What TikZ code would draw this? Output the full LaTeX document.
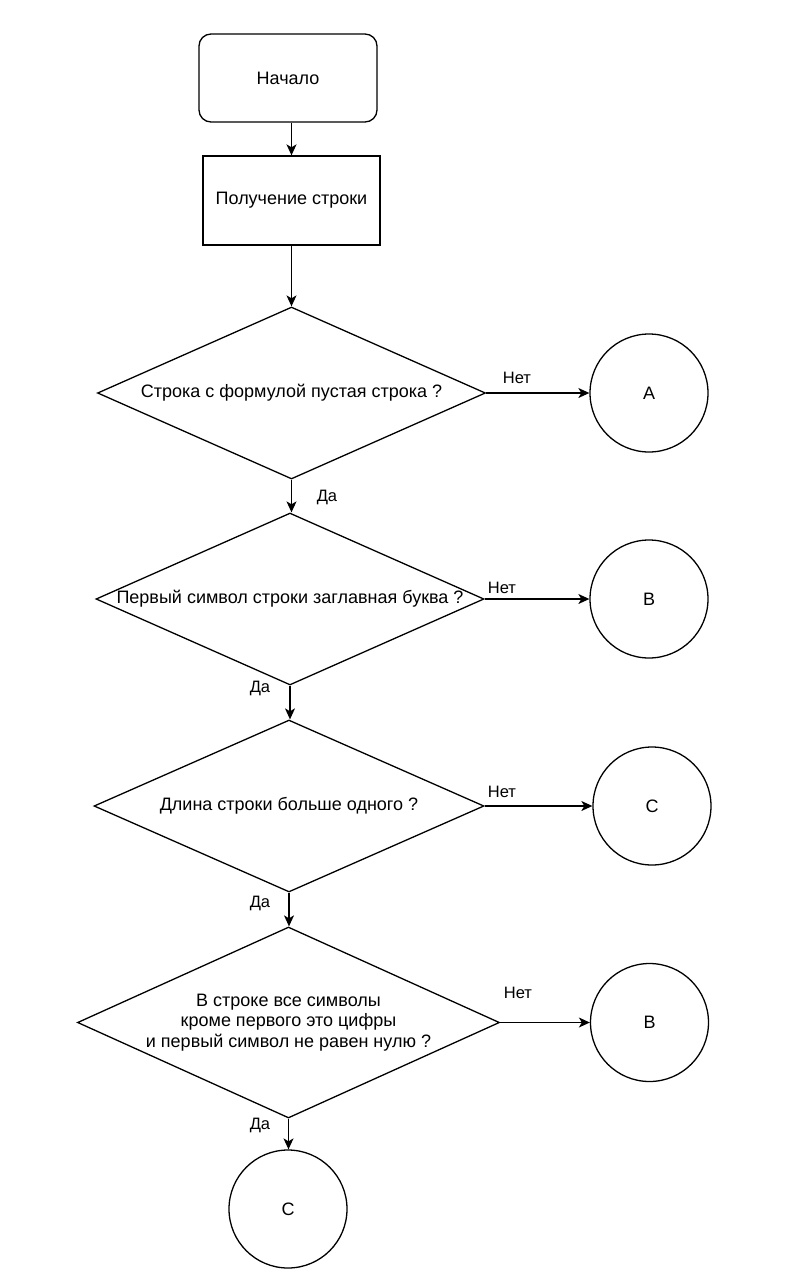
\documentclass[tikz,border=0pt]{standalone}
\usepackage{fontspec}
\setmainfont{Liberation Sans}
\usetikzlibrary{shapes.geometric,arrows.meta}

\tikzset{
  base/.style={draw=black, line width=1.3pt, font=\fontsize{18}{20.5}\selectfont, text=black},
  startbox/.style={base, rounded corners=12pt, minimum width=178pt, minimum height=88pt},
  procbox/.style={base, minimum width=177pt, minimum height=89pt},
  decision/.style={base, diamond, inner sep=0pt},
  connector/.style={base, circle, minimum size=118pt, inner sep=0pt},
  lbl/.style={font=\fontsize{16.5}{18}\selectfont, inner sep=0pt},
  arr/.style={line width=1.3pt, -{Stealth[length=11pt,width=10pt,inset=3pt]}},
}

\begin{document}
\begin{tikzpicture}[x=1pt,y=-1pt]
  \useasboundingbox[fill=white] (0,0) rectangle (798,1280);

  % main column
  \node[startbox] (start) at (288,78) {Начало};
  \node[procbox] (read) at (291.5,200.5) {Получение строки};

  \node[decision, minimum width=388pt, minimum height=172pt,
        label={[base, draw=none]center:Строка с формулой пустая строка ?}] (d1) at (291.5,393) {};
  \node[decision, minimum width=388pt, minimum height=172pt,
        label={[base, draw=none]center:Первый символ строки заглавная буква ?}] (d2) at (290,599) {};
  \node[decision, minimum width=390pt, minimum height=172pt,
        label={[base, draw=none]center:Длина строки больше одного ?}] (d3) at (289,806) {};
  \node[decision, minimum width=422pt, minimum height=191pt,
        label={[base, draw=none, align=center]center:В строке все символы\\кроме первого это цифры\\и первый символ не равен нулю ?}] (d4) at (288.5,1022.5) {};

  \node[connector] (cEnd) at (288,1209) {C};

  % side connectors
  \node[connector] (cA) at (649,393) {A};
  \node[connector] (cB1) at (649,599) {B};
  \node[connector] (cC) at (652,806) {C};
  \node[connector] (cB2) at (649.5,1022.5) {B};

  % flow
  \draw[arr] (start.south -| read.south) -- (read.north);
  \draw[arr] (read.south) -- (read.south |- d1.north);
  \draw[arr] (d1.south) -- (d1.south |- d2.north);
  \draw[arr] (d2.south) -- (d2.south |- d3.north);
  \draw[arr] (d3.south) -- (d3.south |- d4.north);
  \draw[arr] (d4.south) -- (d4.south |- cEnd.north);

  \draw[arr] (d1.east) -- (cA.west);
  \draw[arr] (d2.east) -- (cB1.west);
  \draw[arr] (d3.east) -- (cC.west);
  \draw[arr] (d4.east) -- (cB2.west);

  % branch labels
  \node[lbl] (no1) at (517,378) {Нет};
  \node[lbl] (no2) at (502,588) {Нет};
  \node[lbl] (no3) at (502,792) {Нет};
  \node[lbl] (no4) at (518,993) {Нет};
  \node[lbl] (yes1) at (327,497) {Да};
  \node[lbl] (yes2) at (260,688) {Да};
  \node[lbl] (yes3) at (260,903) {Да};
  \node[lbl] (yes4) at (260,1125) {Да};
\end{tikzpicture}
\end{document}
